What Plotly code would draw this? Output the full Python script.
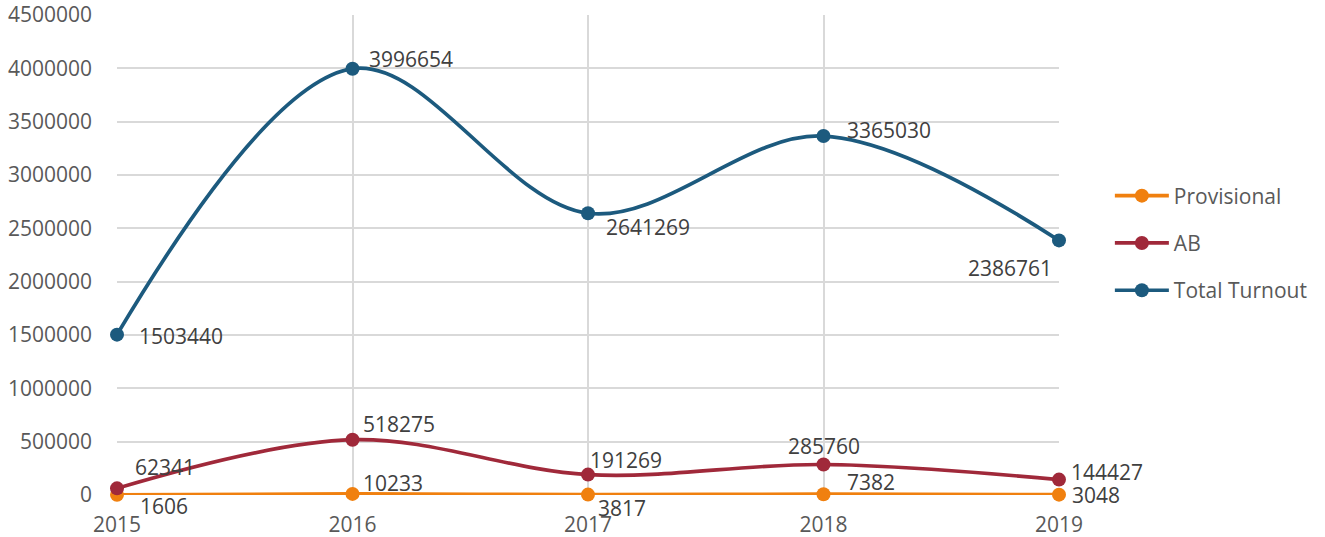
import plotly.graph_objects as go

years = [2015, 2016, 2017, 2018, 2019]
provisional = [1606, 10233, 3817, 7382, 3048]
ab = [62341, 518275, 191269, 285760, 144427]
total = [1503440, 3996654, 2641269, 3365030, 2386761]

# label placement (anchor, xshift px, yshift px) per point
prov_lbl = [("left", 21, -11), ("left", 8, 11), ("left", 8, -13), ("left", 21, 12), ("left", 11, 0)]
ab_lbl = [("left", 16, 21), ("left", 8, 16), ("left", 0, 15), ("center", 0, 19), ("left", 10, 8)]
total_lbl = [("left", 20, -1), ("left", 14, 10), ("left", 16, -14), ("left", 21, 6), ("right", -5, -28)]

FONT = "Open Sans"
fig = go.Figure()
annotations = []

def add(name, vals, color, lbl, grp):
    fig.add_trace(go.Scatter(
        x=years, y=vals, name=name, mode="lines+markers",
        line=dict(color=color, width=3.7, shape="spline", smoothing=1.0),
        marker=dict(color=color, size=14),
        legendgroup=grp, cliponaxis=False,
    ))
    for xv, yv, (anc, dx, dy) in zip(years, vals, lbl):
        annotations.append(dict(
            x=xv, y=yv, xref="x", yref="y", text=str(yv), showarrow=False,
            xanchor=anc, yanchor="middle", xshift=dx, yshift=dy,
            font=dict(family=FONT, size=21, color="#404040"),
        ))

add("Provisional", provisional, "#F0800F", prov_lbl, "a")
add("AB", ab, "#A0293A", ab_lbl, "b")
add("Total Turnout", total, "#1C5A7E", total_lbl, "c")

fig.update_layout(
    width=1325, height=537,
    margin=dict(l=117, r=258, t=15, b=42),
    paper_bgcolor="white", plot_bgcolor="white",
    font=dict(family=FONT, size=21, color="#595959"),
    showlegend=True,
    annotations=annotations,
    legend=dict(x=1.054, xanchor="left", y=0.525, yanchor="middle",
                font=dict(family=FONT, size=21, color="#595959"),
                tracegroupgap=17, itemwidth=54),
    xaxis=dict(range=[2015, 2019], tickvals=years, ticktext=[str(y) for y in years],
               showgrid=True, gridcolor="#D9D9D9", gridwidth=1.5, zeroline=False,
               showline=False, ticks="", ticklabelstandoff=15, automargin=False,
               ticklabeloverflow="allow",
               tickfont=dict(family=FONT, size=21, color="#595959")),
    yaxis=dict(range=[0, 4500000], dtick=500000, tickformat="d",
               showgrid=True, gridcolor="#D9D9D9", gridwidth=1.5, zeroline=False,
               showline=False, ticks="", ticklabelstandoff=24, automargin=False,
               ticklabeloverflow="allow",
               tickfont=dict(family=FONT, size=21, color="#595959")),
)

# remove the browser's default body margin / scrollbars so the figure sits at the page corner
fig.write_html(
    "out.html",
    config={"displayModeBar": False},
    post_script="document.body.style.margin='0px';document.body.style.overflow='hidden';"
                "document.documentElement.style.overflow='hidden';",
)
